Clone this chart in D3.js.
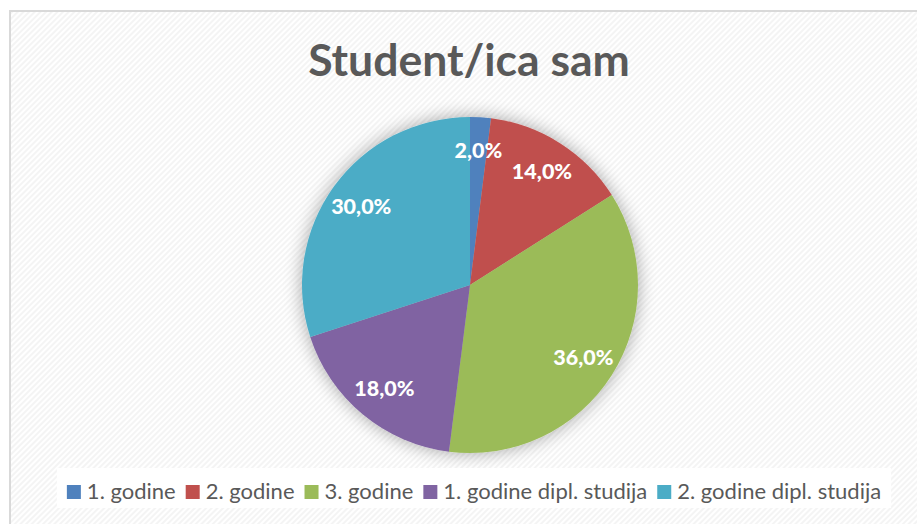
<!DOCTYPE html>
<html>
<head>
<meta charset="utf-8">
<script src="https://cdn.jsdelivr.net/npm/d3@7"></script>
<style>
  body { margin: 0; background: #fff; }
  svg { display: block; font-family: Lato, "Open Sans", sans-serif; }
</style>
</head>
<body>
<script>
// chart data
var categories = ["1. godine", "2. godine", "3. godine", "1. godine dipl. studija", "2. godine dipl. studija"];
var values = [2.0, 14.0, 36.0, 18.0, 30.0];
var colors = ["#4F81BD", "#C0504D", "#9BBB59", "#8064A2", "#4BACC6"];
var title = "Student/ica sam";

window.onload = drawChart();

function drawChart(){

    var width = 917,
        height = 524;

    var svg = d3.select("body")
        .append("svg")
        .attr("width", width)
        .attr("height", height);

    var defs = svg.append("defs");

    //light diagonal stripes like the excel chart area
    var pattern = defs.append("pattern")
        .attr("id", "stripes")
        .attr("patternUnits", "userSpaceOnUse")
        .attr("width", 4)
        .attr("height", 4)
        .attr("patternTransform", "rotate(45)");
    pattern.append("rect")
        .attr("width", 4).attr("height", 4)
        .attr("fill", "#ffffff");
    pattern.append("rect")
        .attr("width", 2).attr("height", 4)
        .attr("fill", "#f4f4f4");

    //soft shadow around the pie
    var filter = defs.append("filter")
        .attr("id", "glow")
        .attr("x", "-30%").attr("y", "-30%")
        .attr("width", "160%").attr("height", "160%");
    filter.append("feGaussianBlur")
        .attr("in", "SourceAlpha")
        .attr("stdDeviation", 9)
        .attr("result", "blur");
    filter.append("feComponentTransfer")
        .attr("in", "blur")
        .attr("result", "shadow")
        .append("feFuncA")
        .attr("type", "linear")
        .attr("slope", 0.35);
    var merge = filter.append("feMerge");
    merge.append("feMergeNode").attr("in", "shadow");
    merge.append("feMergeNode").attr("in", "SourceGraphic");

    //chart area
    svg.append("rect")
        .attr("x", 10)
        .attr("y", 11)
        .attr("width", width + 20)
        .attr("height", height + 20)
        .attr("fill", "url(#stripes)")
        .attr("stroke", "#d9d9d9")
        .attr("stroke-width", 2);

    //title
    svg.append("text")
        .attr("x", 469)
        .attr("y", 76)
        .attr("text-anchor", "middle")
        .attr("font-size", 44.5)
        .attr("font-weight", "bold")
        .attr("fill", "#595959")
        .text(title);

    //pie
    var cx = 470,
        cy = 285,
        radius = 168;

    var pie = d3.pie()
        .sort(null)
        .value(function(d){ return d; });

    var arc = d3.arc()
        .innerRadius(0)
        .outerRadius(radius);

    var labelArc = d3.arc()
        .innerRadius(radius * 0.8)
        .outerRadius(radius * 0.8);

    var g = svg.append("g")
        .attr("transform", "translate(" + cx + "," + cy + ")");

    var arcs = pie(values);

    g.append("g")
        .attr("filter", "url(#glow)")
        .selectAll("path")
        .data(arcs)
        .enter()
        .append("path")
        .attr("d", arc)
        .attr("fill", function(d, i){ return colors[i]; });

    var fmt = function(v){ return v.toFixed(1).replace(".", ",") + "%"; };

    g.selectAll(".label")
        .data(arcs)
        .enter()
        .append("text")
        .attr("class", "label")
        .attr("transform", function(d){ return "translate(" + labelArc.centroid(d) + ")"; })
        .attr("dy", "0.35em")
        .attr("text-anchor", "middle")
        .attr("font-size", 21.5)
        .attr("font-weight", "900")
        .attr("fill", "#ffffff")
        .text(function(d){ return fmt(d.data); });

    //legend
    var legendY = 499,
        box = 14;

    var legendBg = svg.append("rect")
        .attr("y", 468)
        .attr("height", 40)
        .attr("fill", "#ffffff");

    var legend = svg.append("g");

    var x = 0;
    categories.forEach(function(c, i){
        var item = legend.append("g").attr("transform", "translate(" + x + ",0)");
        item.append("rect")
            .attr("x", 0)
            .attr("y", legendY - box)
            .attr("width", box)
            .attr("height", box)
            .attr("fill", colors[i]);
        var t = item.append("text")
            .attr("x", box + 6)
            .attr("y", legendY)
            .attr("font-size", 22)
            .attr("fill", "#595959")
            .text(c);
        x += box + 6 + t.node().getComputedTextLength() + 10;
    });
    var total = x - 10;
    var startX = 474 - total / 2;
    legend.attr("transform", "translate(" + startX + ",0)");
    legendBg.attr("x", startX - 10).attr("width", total + 20);
}
</script>
</body>
</html>
